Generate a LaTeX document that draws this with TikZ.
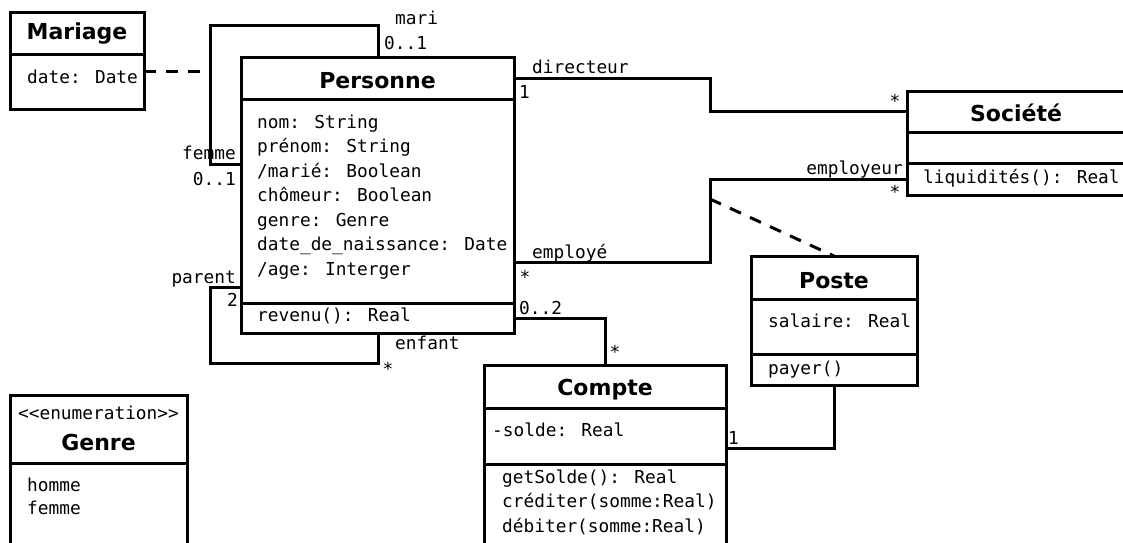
\documentclass[tikz,border=0pt]{standalone}
\usepackage{fontspec}
\setmainfont{DejaVu Sans}
\newfontfamily\monof{DejaVu Sans Mono}
\tikzset{
 cls/.style={draw, line width=3pt, fill=white, inner sep=0pt, outer sep=0pt, anchor=north west},
 lbl/.style={font=\monof\fontsize{17.8}{21}\selectfont, inner sep=0pt},
 txt/.style={lbl, yshift=-2.5pt},
 ttl/.style={font=\bfseries\fontsize{22}{26}\selectfont, inner sep=0pt},
 assoc/.style={line width=3pt},
 link/.style={line width=3pt, dash pattern=on 12pt off 10pt},
 sepline/.style={line width=3pt}
}
\begin{document}
\begin{tikzpicture}[x=1pt,y=-1pt]
\useasboundingbox (0,0) rectangle (1123,542);
\clip (0,0) rectangle (1123,542);

% class boxes
\node[cls, minimum width=134pt, minimum height=97pt] (mar) at (10,12) {};
\node[cls, minimum width=273pt, minimum height=276pt] (pers) at (241,57) {};
\node[cls, minimum width=230pt, minimum height=104pt] (soc) at (907,91) {};
\node[cls, minimum width=166pt, minimum height=129pt] (poste) at (751,256) {};
\node[cls, minimum width=242pt, minimum height=200pt] (cpt) at (484,365) {};
\node[cls, minimum width=177pt, minimum height=170pt] (gen) at (10,395) {};

% separators
\draw[sepline] (mar.west |- 0,54) -- (mar.east |- 0,54);
\draw[sepline] (pers.west |- 0,99) -- (pers.east |- 0,99);
\draw[sepline] (pers.west |- 0,303) -- (pers.east |- 0,303);
\draw[sepline] (soc.west |- 0,132) -- (soc.east |- 0,132);
\draw[sepline] (soc.west |- 0,163) -- (soc.east |- 0,163);
\draw[sepline] (poste.west |- 0,299) -- (poste.east |- 0,299);
\draw[sepline] (poste.west |- 0,354) -- (poste.east |- 0,354);
\draw[sepline] (cpt.west |- 0,408) -- (cpt.east |- 0,408);
\draw[sepline] (cpt.west |- 0,464) -- (cpt.east |- 0,464);
\draw[sepline] (gen.west |- 0,463) -- (gen.east |- 0,463);

% titles
\node[ttl] (tmar) at (77,34) {Mariage};
\node[ttl] (tpers) at (377.5,80.5) {Personne};
\node[ttl] (tsoc) at (1016,112.5) {Société};
\node[ttl] (tposte) at (834,280.5) {Poste};
\node[ttl] (tcpt) at (605,389.5) {Compte};
\node[txt] (stereo) at (98.5,410) {<{}<enumeration>{}>};
\node[ttl] (tgen) at (98.5,442) {Genre};

% attributes
\node[txt, anchor=mid west] (amar) at (27,78) {date: Date};
\node[txt, anchor=mid west] (a1) at (257,123) {nom: String};
\node[txt, anchor=mid west] (a2) at (257,147.5) {prénom: String};
\node[txt, anchor=mid west] (a3) at (257,172) {/marié: Boolean};
\node[txt, anchor=mid west] (a4) at (257,196.5) {chômeur: Boolean};
\node[txt, anchor=mid west] (a5) at (257,221) {genre: Genre};
\node[txt, anchor=mid west] (a6) at (257,245.5) {date\_de\_naissance: Date};
\node[txt, anchor=mid west] (a7) at (257,270) {/age: Interger};
\node[txt, anchor=mid west] (m1) at (257,316) {revenu(): Real};
\node[txt, anchor=mid west] (ms) at (923,178) {liquidités(): Real};
\node[txt, anchor=mid west] (ap) at (768,322) {salaire: Real};
\node[txt, anchor=mid west] (mp) at (768,369) {payer()};
\node[txt, anchor=mid west] (ac) at (492,431) {-solde: Real};
\node[txt, anchor=mid west] (mc1) at (502,478) {getSolde(): Real};
\node[txt, anchor=mid west] (mc2) at (502,502.5) {créditer(somme:Real)};
\node[txt, anchor=mid west] (mc3) at (502,527) {débiter(somme:Real)};
\node[txt, anchor=mid west] (g1) at (27,486) {homme};
\node[txt, anchor=mid west] (g2) at (27,509) {femme};

% associations
\coordinate (marj) at (210,71);
\coordinate (postej) at (710,199);
\draw[assoc] (pers.west |- 0,164) -| (210,25) -| (pers.north -| 378,0);
\draw[link] (mar.east |- marj) -- (marj);
\draw[assoc] (pers.west |- 0,287) -| (210,363) -| (pers.south -| 378,0);
\draw[assoc] (pers.east |- 0,78) -| (710,111) -- (soc.west |- 0,111);
\draw[assoc] (pers.east |- 0,262) -| (710,179) -- (soc.west |- 0,179);
\draw[link] (postej) -- (poste.north);
\draw[assoc] (pers.east |- 0,318) -| (cpt.north);
\draw[assoc] (poste.south) |- (cpt.east |- 0,448);

% role labels and multiplicities
\node[txt, anchor=mid west] (lmari) at (395,19) {mari};
\node[txt, anchor=mid west] (mmari) at (384,44) {0..1};
\node[txt, anchor=mid east] (lfem) at (236,154) {femme};
\node[txt, anchor=mid east] (mfem) at (236,180) {0..1};
\node[txt, anchor=mid east] (lpar) at (236,278) {parent};
\node[txt, anchor=mid east] (mpar) at (238,301) {2};
\node[txt, anchor=mid west] (lenf) at (395,344) {enfant};
\node[lbl] (menf) at (388,369) {*};
\node[txt, anchor=mid west] (ldir) at (532,68) {directeur};
\node[txt, anchor=mid west] (mdir) at (519,93) {1};
\node[lbl] (msoc1) at (895,101) {*};
\node[txt, anchor=mid west] (lemp) at (532,253) {employé};
\node[lbl] (memp) at (525,277) {*};
\node[txt, anchor=mid east] (lempr) at (903,169) {employeur};
\node[lbl] (msoc2) at (895,192) {*};
\node[txt, anchor=mid west] (mcp) at (519,309) {0..2};
\node[lbl] (mcpt) at (615,352) {*};
\node[txt, anchor=mid west] (mcp1) at (728,439) {1};
\end{tikzpicture}
\end{document}
